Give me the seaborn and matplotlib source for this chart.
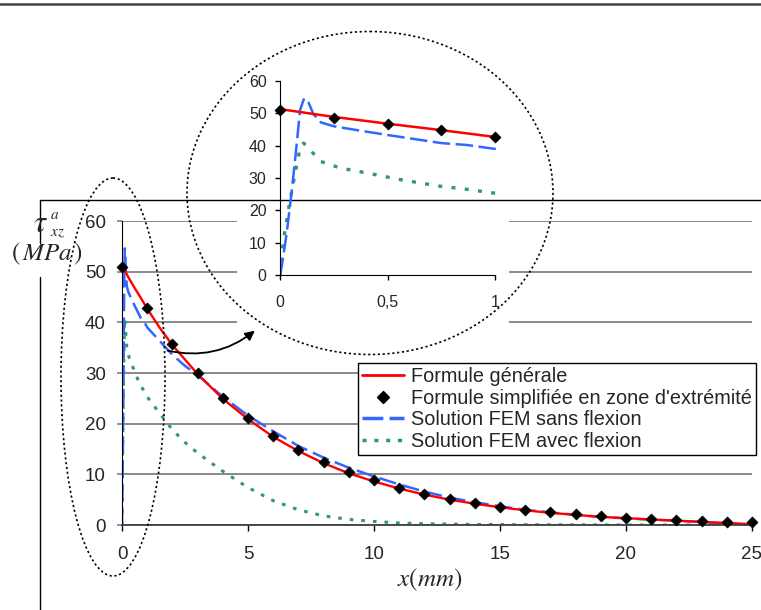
import numpy as np
import pandas as pd
import seaborn as sns
import matplotlib.pyplot as plt
from matplotlib.lines import Line2D
from matplotlib.patches import Ellipse, Rectangle, FancyArrowPatch

# values (x in mm, tau in MPa)
x_gen = [0, 0.25, 0.5, 0.75, 1, 1.5, 2, 3, 4, 5, 6, 7, 8, 9, 10, 11, 12, 13,
         14, 15, 16, 17, 18, 19, 20, 21, 22, 23, 24, 25]
tau_gen = [51.3, 48.9, 46.8, 44.8, 42.7, 38.9, 35.5, 29.8, 24.9, 20.9, 17.4,
           14.6, 12.2, 10.2, 8.6, 7.2, 6.0, 5.0, 4.2, 3.5, 2.9, 2.4, 2.0, 1.6,
           1.35, 1.1, 0.85, 0.6, 0.4, 0.15]

x_simp = list(range(0, 26))
tau_simp = [51.0, 42.9, 35.8, 30.0, 25.0, 21.1, 17.6, 14.9, 12.4, 10.4, 8.8,
            7.4, 6.1, 5.1, 4.4, 3.6, 2.9, 2.5, 2.1, 1.7, 1.45, 1.2, 1.0, 0.8,
            0.65, 0.6]
x_simp_zoom = [0, 0.25, 0.5, 0.75, 1]
tau_simp_zoom = [51.0, 48.7, 46.6, 44.7, 42.7]

x_sans = [0, 0.008, 0.031, 0.057, 0.078, 0.093, 0.112, 0.131, 0.155, 0.19,
          0.25, 0.34, 0.5, 0.75, 0.87, 1.0, 1.5, 2, 2.5, 3, 4, 5, 6, 7, 8, 9,
          10, 11, 12, 13, 14, 15, 16, 17, 18, 19, 20, 21, 22, 23, 24, 25]
tau_sans = [0, 2.6, 12.9, 27.3, 40.7, 51.0, 54.6, 53.6, 49.8, 47.2, 46.0,
            45.0, 43.3, 40.8, 40.2, 39.0, 36.3, 33.6, 31.4, 29.6, 25.3, 21.6,
            18.5, 15.6, 13.3, 11.3, 9.6, 8.0, 6.6, 5.4, 4.5, 3.7, 3.0, 2.5,
            2.0, 1.6, 1.3, 1.05, 0.85, 0.6, 0.3, 0.05]

x_avec = [0, 0.016, 0.047, 0.07, 0.093, 0.11, 0.155, 0.19, 0.28, 0.4, 0.56,
          0.74, 0.87, 1.0, 1.5, 2, 2.5, 3, 4, 5, 6, 7, 8, 9, 10, 11, 12, 14,
          16, 20, 25]
tau_avec = [0, 10.8, 23.2, 31.4, 39.1, 40.8, 37.6, 35.1, 33.1, 31.6, 29.5,
            27.5, 26.5, 25.3, 22.0, 18.8, 16.3, 14.2, 10.6, 7.4, 4.8, 3.0, 1.8,
            1.1, 0.7, 0.4, 0.25, 0.1, 0.05, 0.0, 0.0]

labels = ["Formule générale",
          "Formule simplifiée en zone d'extrémité",
          "Solution FEM sans flexion",
          "Solution FEM avec flexion"]
main_xticks = [0, 5, 10, 15, 20, 25]
zoom_xticks = [0, 0.5, 1]
zoom_xticklabels = ["0", "0,5", "1"]
yticks = [0, 10, 20, 30, 40, 50, 60]

RED = "#ff0000"
BLUE = "#3366ff"
GREEN = "#339966"

sns.set_style("white")
plt.rcParams["font.family"] = ["Liberation Sans", "DejaVu Sans"]
plt.rcParams["mathtext.fontset"] = "stix"

W, H = 761, 610
fig = plt.figure(figsize=(W / 100, H / 100), dpi=100)

def fx(px):
    return px / W

def fy(py):
    return 1 - py / H

# main chart
ax = fig.add_axes([fx(122), fy(525), fx(752) - fx(122), fy(221) - fy(525)], zorder=1)
sns.lineplot(x=x_avec, y=tau_avec, ax=ax, color=GREEN, lw=2.2,
             linestyle=(0, (1.2, 2.6)))
sns.lineplot(x=x_sans, y=tau_sans, ax=ax, color=BLUE, lw=1.8,
             linestyle=(0, (7, 2.5)))
sns.lineplot(x=x_gen, y=tau_gen, ax=ax, color=RED, lw=1.7)
sns.scatterplot(x=x_simp, y=tau_simp, ax=ax, marker="D", s=32, color="black",
                edgecolor="black", clip_on=False, zorder=5)
ax.set_xlim(0, 25)
ax.set_ylim(0, 60)
ax.set_xticks(main_xticks)
ax.set_yticks(yticks)
ax.set_xlabel("")
ax.set_ylabel("")
ax.yaxis.grid(True, color="#808080", lw=1.3)
ax.xaxis.grid(False)
ax.set_axisbelow(True)
for s in ["top", "right"]:
    ax.spines[s].set_visible(False)
ax.spines["left"].set_color("black")
ax.spines["bottom"].set_color("#404040")
ax.spines["bottom"].set_linewidth(1.3)
ax.tick_params(axis="y", left=True, direction="out", length=3.6, width=1.2,
               color="#808080", pad=8, labelsize=13.5)
ax.tick_params(axis="x", bottom=True, direction="out", length=4.3, width=1,
               color="black", pad=11, labelsize=13.5)

legend_handles = [
    Line2D([], [], color=RED, lw=2),
    Line2D([], [], color="black", marker="D", ms=6, ls="none"),
    Line2D([], [], color=BLUE, lw=2.5, linestyle=(0, (6, 1.8))),
    Line2D([], [], color=GREEN, lw=2.5, linestyle=(0, (1.2, 2.2))),
]
leg = ax.legend(legend_handles, labels, loc="upper left",
                bbox_to_anchor=(fx(358), fy(363)), bbox_transform=fig.transFigure,
                borderaxespad=0, fontsize=14.3, frameon=True, fancybox=False,
                framealpha=1, edgecolor="black", handlelength=2.1,
                handletextpad=0.35, labelspacing=0.12, borderpad=0.22)
leg.get_frame().set_linewidth(1)
leg.set_zorder(10)

# overlay in pixel coordinates: frame lines, mask, ellipses, arrow
ov = fig.add_axes([0, 0, 1, 1], zorder=2)
ov.set_xlim(0, W)
ov.set_ylim(H, 0)
ov.axis("off")
ov.patch.set_alpha(0)
ov.plot([0, W], [4, 4], color="#444444", lw=1.8)
ov.plot([40, W], [200, 200], color="black", lw=1)
ov.plot([40, 40], [200, 243], color="black", lw=1)
ov.plot([40, 40], [277, H], color="black", lw=1)
ov.add_patch(Rectangle((237, 40), 272, 295, facecolor="white",
                       edgecolor="none", zorder=1))
for (cx, cy, w, h) in [(370, 193, 366, 323), (113, 377, 104, 398)]:
    ov.add_patch(Ellipse((cx, cy), w, h, fill=False, edgecolor="black",
                         lw=1.2, linestyle=(0, (1.3, 1.6)), zorder=3))
ov.add_patch(FancyArrowPatch((165, 350), (257, 329),
                             connectionstyle="arc3,rad=0.25",
                             arrowstyle="-|>", mutation_scale=14,
                             color="black", lw=1.3, zorder=3))

# zoom on the first millimetre
axz = fig.add_axes([fx(280), fy(275), 220.4 / W, fy(81) - fy(275)], zorder=3)
axz.patch.set_alpha(0)
sns.lineplot(x=x_avec, y=tau_avec, ax=axz, color=GREEN, lw=2.4,
             linestyle=(0, (1.2, 2.8)))
sns.lineplot(x=x_sans, y=tau_sans, ax=axz, color=BLUE, lw=1.8,
             linestyle=(0, (7, 2.2)))
sns.lineplot(x=x_gen, y=tau_gen, ax=axz, color=RED, lw=1.8)
sns.scatterplot(x=x_simp_zoom, y=tau_simp_zoom, ax=axz, marker="D", s=32,
                color="black", edgecolor="black", clip_on=False, zorder=5)
axz.set_xlim(0, 1.025)
axz.set_ylim(0, 60)
axz.set_xticks(zoom_xticks)
axz.set_xticklabels(zoom_xticklabels)
axz.set_yticks(yticks)
axz.set_xlabel("")
axz.set_ylabel("")
axz.grid(False)
for s in ["top", "right"]:
    axz.spines[s].set_visible(False)
axz.spines["bottom"].set_bounds(0, 1)
axz.spines["left"].set_color("black")
axz.spines["bottom"].set_color("black")
axz.tick_params(axis="both", direction="out", length=3.6, width=1,
                color="black", labelsize=11.5)
axz.tick_params(axis="y", left=True, pad=6)
axz.tick_params(axis="x", bottom=True, pad=11)

# axis titles: tau with its indices, unit, x label
fig.text(fx(33), fy(232), r"$\tau$", fontsize=22, ha="left", va="baseline")
fig.text(fx(50), fy(219), r"$a$", fontsize=11, ha="left", va="baseline")
fig.text(fx(50), fy(236), r"$xz$", fontsize=11, ha="left", va="baseline")
fig.text(fx(47), fy(254), r"$(\,MPa\,)$", fontsize=18, ha="center", va="center")
fig.text(fx(430), fy(580), r"$x(mm)$", fontsize=18, ha="center", va="center")

fig.savefig("out.png", dpi=100, facecolor="white")
